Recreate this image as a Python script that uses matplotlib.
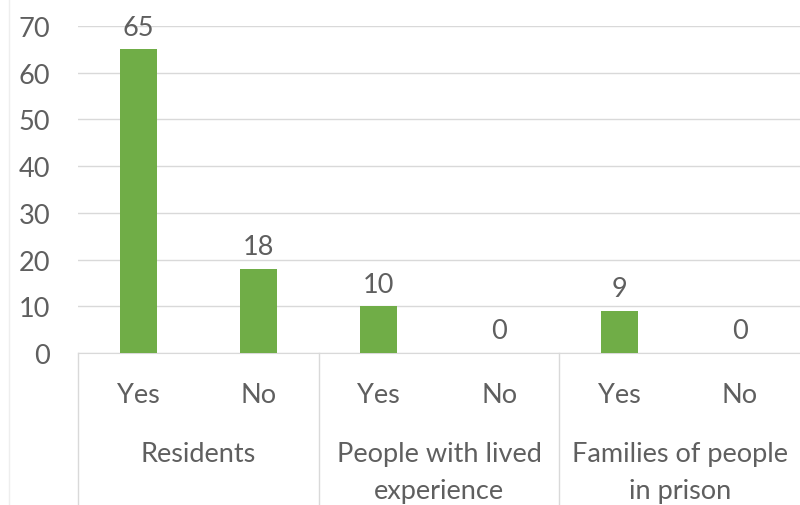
import matplotlib.pyplot as plt
from matplotlib.lines import Line2D
from matplotlib.transforms import blended_transform_factory

# Data
groups = ["Residents", "People with lived\nexperience", "Families of people\nin prison"]
answers = ["Yes", "No", "Yes", "No", "Yes", "No"]
counts = [65, 18, 10, 0, 9, 0]

bar_color = "#70ad47"
text_color = "#5f5f5f"
grid_color = "#d9d9d9"
fs = 19.5

plt.rcParams["font.family"] = ["Lato", "DejaVu Sans"]

fig = plt.figure(figsize=(8, 5.06), dpi=100)
ax = fig.add_axes([0.0975, 0.3004, 0.9025, 0.6462])

x = list(range(len(counts)))
bars = ax.bar(x, counts, width=0.31, color=bar_color, zorder=3)

# value labels above bars
for xi, v in zip(x, counts):
    ax.annotate(str(v), (xi, v), xytext=(0, 7), textcoords="offset points",
                ha="center", va="bottom", fontsize=fs, color=text_color)

ax.set_xlim(-0.5, len(counts) - 0.5)
ax.set_ylim(0, 70)
ax.set_yticks(range(0, 71, 10))
ax.yaxis.grid(True, color=grid_color, linewidth=1)
ax.set_axisbelow(True)
for s in ["top", "right", "left"]:
    ax.spines[s].set_visible(False)
ax.spines["bottom"].set_color(grid_color)
ax.tick_params(axis="y", length=0, pad=20, labelsize=fs, labelcolor=text_color)
ax.set_xticks(x)
ax.set_xticklabels(answers)
ax.tick_params(axis="x", length=0, pad=21, labelsize=fs, labelcolor=text_color)

# group labels and dividers below the axis
trans = blended_transform_factory(ax.transData, ax.transAxes)
for i, g in enumerate(groups):
    ax.text(2 * i + 0.5, -0.268, g, transform=trans, ha="center", va="top",
            fontsize=fs, color=text_color, linespacing=1.6)
for xd in [-0.5, 1.5, 3.5]:
    ax.plot([xd, xd], [0, -0.47], transform=trans, color=grid_color,
            linewidth=1, clip_on=False)

# faint chart frame on the left
fig.add_artist(Line2D([0.011, 0.011], [0, 1], transform=fig.transFigure,
                      color="#eeeeee", linewidth=1))

fig.savefig("out.png", dpi=100)
